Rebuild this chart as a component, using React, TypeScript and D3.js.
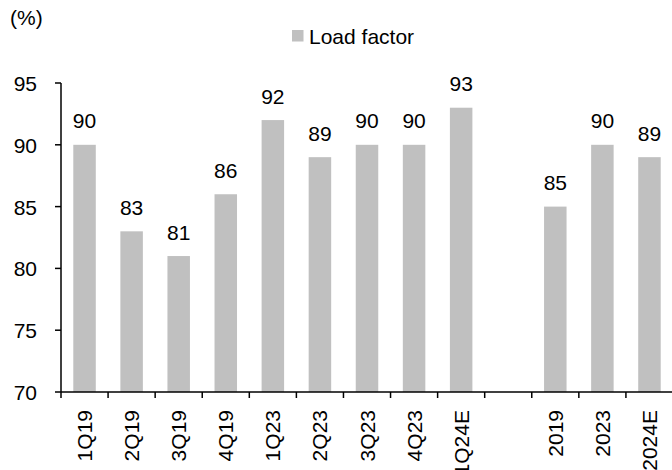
import React from "react";
import * as d3 from "d3";

const categories = ["1Q19", "2Q19", "3Q19", "4Q19", "1Q23", "2Q23", "3Q23", "4Q23", "1Q24E", "", "2019", "2023", "2024E"];
const values: (number | null)[] = [90, 83, 81, 86, 92, 89, 90, 90, 93, null, 85, 90, 89];
const yTicks = [70, 75, 80, 85, 90, 95];

const W = 672, H = 470;
const left = 61, right = 673, top = 83, bottom = 392;
const font = "Liberation Sans, Arial, sans-serif";
const fs = 21;

export default function App() {
  const xs = d3.scaleLinear().domain([0, categories.length]).range([left, right]);
  const step = xs(1) - xs(0);
  const bw = 22.5;
  const y = d3.scaleLinear().domain([70, 95]).range([bottom, top]);
  return (
    <svg width={W} height={H} style={{ position: "absolute", left: 0, top: 0 }} fontFamily={font}>
      <text x={10} y={25} fontSize={fs}>(%)</text>
      <rect x={292} y={30} width={11.5} height={11.5} fill="#c0c0c0" />
      <text x={309} y={44} fontSize={fs}>Load factor</text>
      {values.map((v, i) => v == null ? null : (
        <g key={i}>
          <rect x={xs(i) + step / 2 - bw / 2} y={y(v)} width={bw} height={bottom - y(v)} fill="#c0c0c0" />
          <text x={xs(i) + step / 2} y={y(v) - 16.5} fontSize={fs} textAnchor="middle">{v}</text>
        </g>
      ))}
      <line x1={left} x2={left} y1={top} y2={bottom} stroke="#000" strokeWidth={1.5} />
      {yTicks.map(t => (
        <g key={t}>
          <line x1={left - 6} x2={left} y1={y(t)} y2={y(t)} stroke="#000" strokeWidth={1.5} />
          <text x={37} y={y(t) + 8} fontSize={fs} textAnchor="end">{t}</text>
        </g>
      ))}
      <line x1={left} x2={right} y1={bottom} y2={bottom} stroke="#000" strokeWidth={1.5} />
      {d3.range(categories.length).map(i => (
        <line key={i} x1={xs(i)} x2={xs(i)} y1={bottom} y2={bottom + 6} stroke="#000" strokeWidth={1.5} />
      ))}
      {categories.map((c, i) => (
        <text key={i} transform={`translate(${xs(i) + step / 2 + 7.5},${bottom + 18}) rotate(-90)`} fontSize={fs} textAnchor="end">{c}</text>
      ))}
    </svg>
  );
}
